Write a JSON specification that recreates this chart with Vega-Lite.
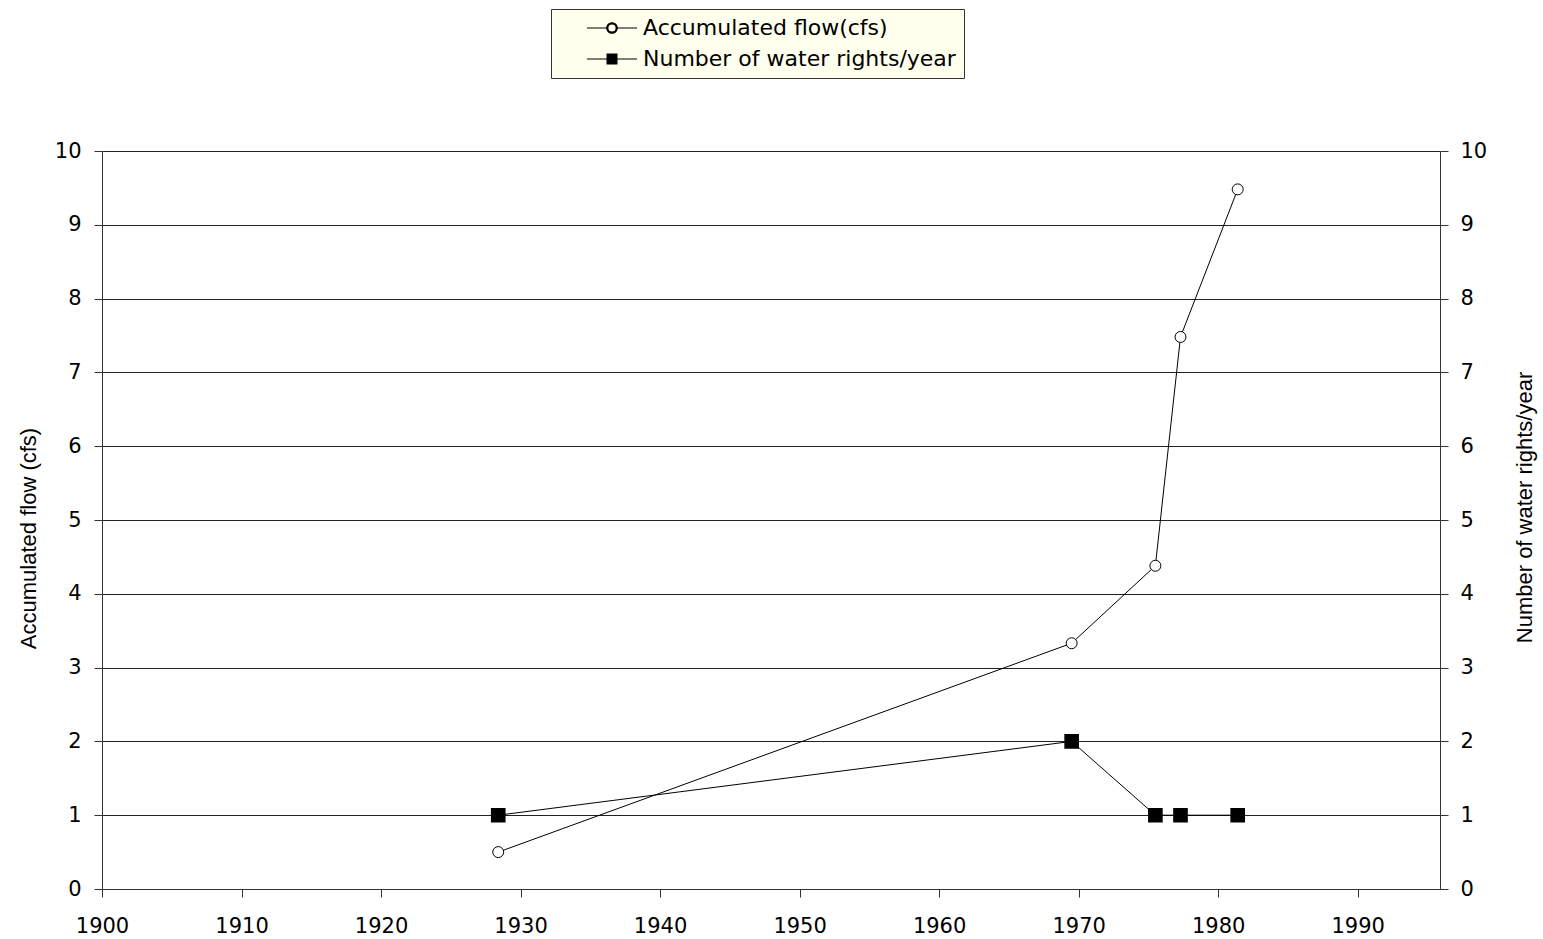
{
  "$schema": "https://vega.github.io/schema/vega-lite/v6.json",
  "width": 1338,
  "height": 738,
  "autosize": {"type": "none"},
  "padding": {"left": 102, "top": 151, "right": 103, "bottom": 50},
  "background": "white",
  "config": {
    "view": {"stroke": null},
    "font": "DejaVu Sans",
    "axis": {"labelFont": "DejaVu Sans", "labelFontSize": 21, "labelFontWeight": "normal", "labelColor": "black", "domainColor": "#333", "tickColor": "#333", "tickSize": 8, "titleFont": "Liberation Sans", "titleFontWeight": "normal", "titleFontSize": 22, "titleColor": "black"}
  },
  "data": {
    "values": [
      {"year": 1928.4, "flow": 0.5, "rights": 1},
      {"year": 1969.5, "flow": 3.33, "rights": 2},
      {"year": 1975.5, "flow": 4.38, "rights": 1},
      {"year": 1977.3, "flow": 7.48, "rights": 1},
      {"year": 1981.4, "flow": 9.48, "rights": 1}
    ]
  },
  "encoding": {
    "x": {
      "field": "year", "type": "quantitative",
      "scale": {"domain": [1900, 1995.9], "nice": false, "zero": false},
      "axis": {"values": [1900, 1910, 1920, 1930, 1940, 1950, 1960, 1970, 1980, 1990], "format": "d", "grid": false, "title": null, "labelPadding": 18, "labelFlush": false}
    }
  },
  "layer": [
    {
      "encoding": {
        "y": {
          "field": "flow", "type": "quantitative",
          "scale": {"domain": [0, 10], "nice": false},
          "axis": {"orient": "left", "values": [0,1,2,3,4,5,6,7,8,9,10], "grid": true, "gridColor": "#222", "gridWidth": 1, "title": "Accumulated flow (cfs)", "titlePadding": 14, "labelPadding": 13, "titleY": 387}
        },
        "color": {"datum": "Accumulated flow(cfs)", "type": "nominal",
          "scale": {"domain": ["Accumulated flow(cfs)", "Number of water rights/year"], "range": ["black", "black"]},
          "legend": {
            "title": null, "orient": "none", "legendX": 449, "legendY": -142,
            "fillColor": "#FFFFEE", "strokeColor": "#333", "padding": 8,
            "labelFont": "DejaVu Sans", "labelFontSize": 22, "labelColor": "black", "labelLimit": 0,
            "labelExpr": "datum.label + '\u00a0\u00a0\u00a0'",
            "labelOffset": 62, "symbolSize": 196, "rowPadding": 9,
            "symbolStrokeWidth": 1.2, "symbolFillColor": "black", "symbolStrokeColor": "black",
            "encode": {
              "symbols": {"update": {
                "shape": {"signal": "datum.value === 'Accumulated flow(cfs)' ? 'M2.42,0H5.25M6.75,0H9.57M6.75,0A0.75,0.75 0 1,1 5.25,0A0.75,0.75 0 1,1 6.75,0ZM6.6,0A0.6,0.6 0 1,0 5.4,0A0.6,0.6 0 1,0 6.6,0Z' : 'M2.42,0H9.57M5.3,-0.7H6.7V0.7H5.3Z'"},
                "fill": {"value": "black"},
                "stroke": {"value": "black"}
              }}
            }
          }
        }
      },
      "layer": [
        {"mark": {"type": "line", "color": "black", "strokeWidth": 1}},
        {"mark": {"type": "point", "shape": "circle", "filled": true, "fill": "white", "stroke": "black", "strokeWidth": 1, "size": 120, "opacity": 1}}
      ]
    },
    {
      "encoding": {
        "y": {
          "field": "rights", "type": "quantitative",
          "scale": {"domain": [0, 10], "nice": false},
          "axis": {"orient": "right", "values": [0,1,2,3,4,5,6,7,8,9,10], "grid": false, "title": "Number of water rights/year", "titleAngle": 270, "titlePadding": 50, "labelPadding": 12, "titleY": 356}
        },
        "color": {"datum": "Number of water rights/year", "type": "nominal"}
      },
      "layer": [
        {"mark": {"type": "line", "color": "black", "strokeWidth": 1}},
        {"mark": {"type": "point", "shape": "square", "filled": true, "fill": "black", "stroke": "black", "size": 160, "opacity": 1}}
      ]
    }
  ],
  "resolve": {"scale": {"y": "independent"}}
}
